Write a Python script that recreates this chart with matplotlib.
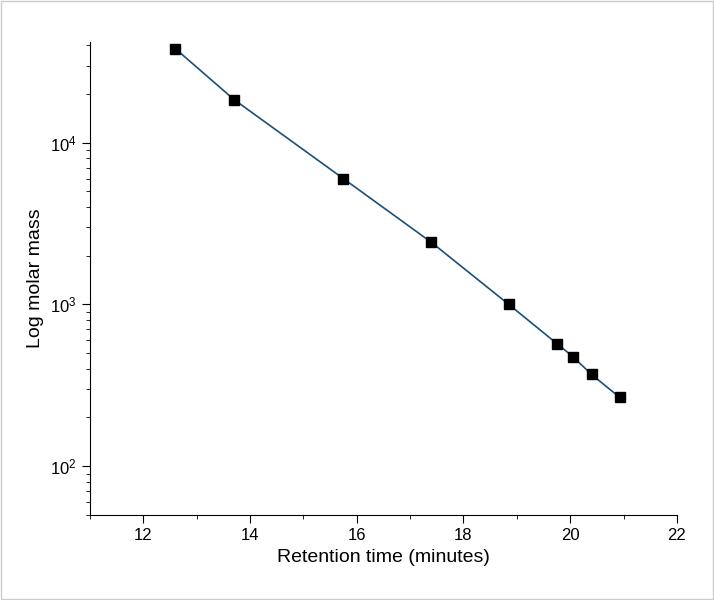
import matplotlib
matplotlib.use("Agg")
import matplotlib.pyplot as plt
import numpy as np
from matplotlib import font_manager
from matplotlib.patches import Rectangle

names = {f.name for f in font_manager.fontManager.ttflist}
fam = "Liberation Sans Narrow" if "Liberation Sans Narrow" in names else "Liberation Sans"
plt.rcParams["font.family"] = fam

retention = [12.6, 13.7, 15.75, 17.4, 18.85, 19.75, 20.05, 20.4, 20.93]
molar_mass = [38200, 18500, 6000, 2420, 1000, 573, 476, 369, 266]

fig = plt.figure(figsize=(7.14, 6.0), dpi=100)
fig.patches.append(Rectangle((0.001, 0.001), 0.998, 0.998, transform=fig.transFigure,
                             fill=False, edgecolor="#cccccc", lw=1))
ax = fig.add_axes([0.126, 0.142, 0.822, 0.788])
ax.plot(retention, molar_mass, color="#1a4f7a", lw=1.2, zorder=2)
ax.plot(retention, molar_mass, "s", color="black", ms=7, zorder=3)
ax.set_yscale("log")
ax.set_xlim(11, 22)
ax.set_ylim(50, 42000)
ax.set_xticks([12, 14, 16, 18, 20, 22])
ax.set_xticks(np.arange(11, 23, 1), minor=True)
for s in ["top", "right"]:
    ax.spines[s].set_visible(False)
ax.tick_params(direction="out", labelsize=12, length=6)
ax.tick_params(which="minor", direction="out", length=3)
ax.set_xlabel("Retention time (minutes)", fontsize=14)
ax.set_ylabel("Log molar mass", fontsize=14)
fig.savefig("out.png", dpi=100)
